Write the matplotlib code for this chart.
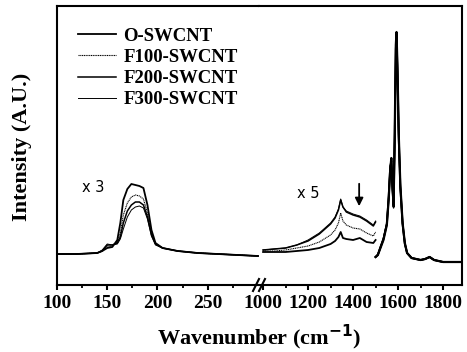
import matplotlib
matplotlib.use("Agg")
import matplotlib.pyplot as plt
from matplotlib.lines import Line2D
from matplotlib.ticker import MultipleLocator, FixedLocator

# radial breathing mode region (x3)
rbm_x = [100, 120, 140, 145, 150, 155, 160, 163, 166, 170, 174, 178, 182, 186, 190, 194, 198, 205, 220, 240, 260, 280, 300]
rbm_o = [31, 31, 32, 34, 37, 38, 45, 62, 85, 96, 101, 100, 99, 97, 80, 55, 42, 37, 34, 32, 31, 30, 29]
rbm_f100 = [31, 31, 32, 34, 38, 39, 43, 52, 70, 82, 88, 90, 89, 86, 72, 52, 41, 37, 34, 32, 31, 30, 29]
rbm_f200 = [31, 31, 32, 34, 40, 40, 42, 48, 62, 74, 80, 83, 83, 80, 68, 50, 41, 37, 34, 32, 31, 30, 29]
rbm_f300 = [31, 31, 32, 35, 41, 40, 41, 46, 56, 68, 75, 78, 79, 77, 66, 49, 40, 37, 34, 32, 31, 30, 29]

# D band region (x5)
d_x = [1000, 1050, 1100, 1150, 1200, 1250, 1300, 1320, 1335, 1345, 1355, 1370, 1400, 1430, 1460, 1490, 1500]
d_o = [33, 33, 33, 34, 35, 37, 41, 44, 48, 53, 47, 46, 45, 47, 43, 42, 45]
d_f100 = [34, 34, 35, 37, 39, 43, 50, 55, 62, 72, 64, 60, 57, 56, 52, 49, 53]
d_f200 = [35, 36, 37, 40, 44, 51, 61, 67, 75, 85, 78, 73, 70, 68, 64, 59, 63]
d_f300 = [35, 36, 37, 40, 45, 52, 62, 68, 76, 86, 78, 74, 71, 69, 65, 60, 64]

# G band region
g_x = [1500, 1510, 1520, 1535, 1550, 1558, 1565, 1570, 1575, 1580, 1585, 1590, 1593, 1597, 1603, 1610, 1620, 1630, 1640, 1660, 1700, 1720, 1740, 1760, 1800, 1850, 1885]
g_o = [28, 30, 36, 45, 60, 85, 115, 127, 100, 80, 150, 240, 253, 220, 150, 100, 62, 42, 32, 27, 25, 26, 28, 25, 23, 23, 23]
g_f100 = [28, 30, 36, 46, 61, 86, 116, 126, 98, 79, 148, 238, 250, 218, 148, 99, 62, 42, 32, 27, 25, 26, 28, 25, 23, 23, 23]
g_f200 = [28, 30, 37, 46, 61, 87, 118, 124, 96, 78, 146, 236, 248, 216, 147, 98, 61, 41, 32, 27, 25, 26, 28, 25, 23, 23, 23]
g_f300 = [28, 31, 37, 47, 62, 88, 119, 122, 95, 77, 145, 234, 246, 214, 146, 97, 61, 41, 32, 27, 25, 26, 28, 25, 23, 23, 23]

labels = ["O-SWCNT", "F100-SWCNT", "F200-SWCNT", "F300-SWCNT"]
widths = [1.3, 0.8, 1.1, 0.7]
styles = ["-", (0, (1, 0.6)), "-", "-"]

W, H = 467, 352
fig = plt.figure(figsize=(W / 100, H / 100), dpi=100)
serif = "Liberation Serif"

left, right, bottom, top, brk = 57, 462, 285, 6, 259
ax1 = fig.add_axes([left / W, 1 - bottom / H, (brk - left) / W, (bottom - top) / H])
ax2 = fig.add_axes([brk / W, 1 - bottom / H, (right - brk) / W, (bottom - top) / H], sharey=ax1)

rbm = [rbm_o, rbm_f100, rbm_f200, rbm_f300]
dband = [d_o, d_f100, d_f200, d_f300]
gband = [g_o, g_f100, g_f200, g_f300]
for i in range(4):
    ax1.plot(rbm_x, rbm[i], color="black", lw=widths[i], ls=styles[i])
    ax2.plot(d_x, dband[i], color="black", lw=widths[i], ls=styles[i])
    ax2.plot(g_x, gband[i], color="black", lw=widths[i] + 0.3, ls="-")

ax1.set_xlim(100, 301)
ax2.set_xlim(982, 1884)
ax1.set_ylim(0, 279)

ax1.xaxis.set_major_locator(FixedLocator([100, 150, 200, 250]))
ax1.xaxis.set_minor_locator(FixedLocator([125, 175, 225, 275]))
ax2.xaxis.set_major_locator(MultipleLocator(200))
ax2.xaxis.set_minor_locator(MultipleLocator(100))

for ax in (ax1, ax2):
    for s in ax.spines.values():
        s.set_linewidth(1.5)
    ax.tick_params(axis="y", left=False, right=False, labelleft=False)
    ax.tick_params(axis="x", which="major", direction="out", length=3.5, width=1.5, pad=4)
    ax.tick_params(axis="x", which="minor", direction="out", length=2.5, width=1.3)
    for lab in ax.get_xticklabels():
        lab.set_fontfamily(serif)
        lab.set_fontweight("bold")
        lab.set_fontsize(14)
ax1.spines["right"].set_visible(False)
ax2.spines["left"].set_visible(False)

# axis break marks
for dx in (-3, 3):
    x0 = (brk + dx - 3) / W
    x1 = (brk + dx + 3) / W
    fig.add_artist(Line2D([x0, x1], [1 - (bottom + 6) / H, 1 - (bottom - 6) / H],
                          color="black", lw=1.5))

ax1.text(125, 97, "x 3", fontsize=10.5, va="center")
ax2.text(1150, 92, "x 5", fontsize=10.5, va="center")
ax2.annotate("", xy=(1427, 76), xytext=(1427, 104),
             arrowprops=dict(arrowstyle="-|>", color="black", lw=1.3, mutation_scale=12))

handles = [Line2D([], [], color="black", lw=widths[i], ls=styles[i]) for i in range(4)]
ax1.legend(handles, labels, loc="upper left", bbox_to_anchor=(0.04, 0.97), frameon=False,
           prop={"family": serif, "weight": "bold", "size": 13.5}, handlelength=2.0,
           handletextpad=0.4, labelspacing=0.22, borderaxespad=0.3)

fig.text((left + right) / 2 / W, 1 - 337 / H, "Wavenumber (cm$^{\\mathbf{-1}}$)", ha="center", va="center",
         fontfamily=serif, fontweight="bold", fontsize=16)
fig.text(22 / W, 1 - 147 / H, "Intensity (A.U.)", ha="center", va="center", rotation=90,
         fontfamily=serif, fontweight="bold", fontsize=16)

fig.savefig("out.png", dpi=100)
